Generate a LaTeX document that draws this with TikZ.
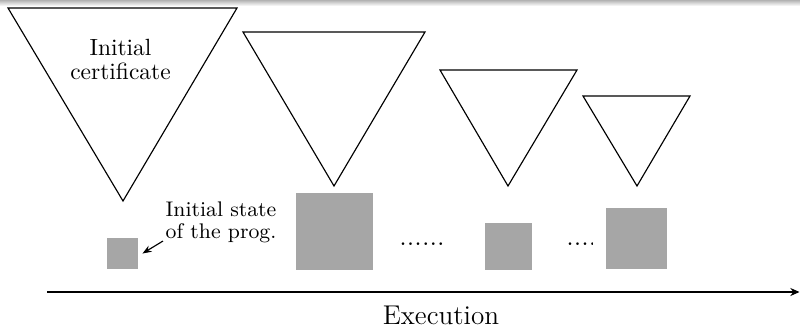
\documentclass[tikz,border=0pt]{standalone}
\usetikzlibrary{arrows.meta}
\begin{document}
\begin{tikzpicture}[x=0.4348pt,y=-0.4348pt,
  tri/.style={draw=black,line width=0.5pt,line join=miter},
  state/.style={fill=black!35,draw=none,inner sep=0pt,minimum width=#1*0.4348pt,minimum height=#1*0.4348pt},
  dotstxt/.style={inner sep=0pt,font=\fontsize{12}{12}\selectfont},
  lbl/.style={inner sep=0pt,align=center}]
\useasboundingbox (0,0) rectangle (800,327);
\shade[top color=black!30,bottom color=white,draw=none] (0,0) rectangle (800,6);
% triangles (certificates)
\draw[tri] (8,8) -- (237,8) -- (123,201) -- cycle;
\draw[tri] (243,32) -- (425,32) -- (334,186) -- cycle;
\draw[tri] (440,70) -- (577,70) -- (508,186) -- cycle;
\draw[tri] (583,96) -- (690,96) -- (637,186) -- cycle;
\node[lbl,font=\fontsize{10.2}{10.8}\selectfont] (cert) at (120.5,59.5) {Initial\\certificate};
% program states
\node[state=31] (s1) at (122.5,253.5) {};
\node[state=77] (s2) at (334.5,231) {};
\node[state=47] (s3) at (508.5,246) {};
\node[state=61] (s4) at (636.5,238.5) {};
% dots
\node[dotstxt] (d1) at (422,244) {......};
\begin{scope}
\clip (560,230) rectangle (592.5,260);
\node[dotstxt,anchor=west] (d2) at (566,244) {....};
\end{scope}
% label
\node[lbl,font=\fontsize{9.2}{9.4}\selectfont] (lab) at (221,222.5) {Initial state\\of the prog.};
\coordinate (ltail) at (163,241);
\draw[-{Stealth[length=4pt,width=3pt]},line width=0.5pt] (ltail) -- ([xshift=4*0.4348pt]s1.east);
% execution axis
\coordinate (ax0) at (47,292);
\coordinate (ax1) at (799.5,292);
\draw[line width=0.6pt,-{Stealth[length=4pt,width=3.5pt]}] (ax0) -- (ax1);
\node[inner sep=0pt,font=\fontsize{11.8}{12}\selectfont,anchor=base] (exe) at (441,324) {Execution};
\end{tikzpicture}
\end{document}
